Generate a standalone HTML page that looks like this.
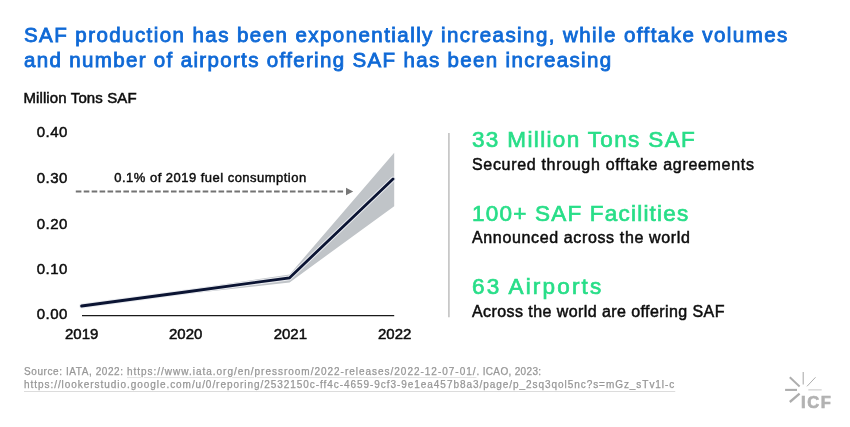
<!DOCTYPE html>
<html><head><meta charset="utf-8">
<style>
html,body{margin:0;padding:0;background:#fff;}
body{width:850px;height:427px;position:relative;overflow:hidden;font-family:"Liberation Sans",sans-serif;color:#111;}
.t{position:absolute;white-space:nowrap;line-height:1;}
.title{color:#0f69d6;font-weight:normal;font-size:20.5px;left:24px;-webkit-text-stroke:0.85px #0f69d6;}
.h{color:#28de88;font-size:22.5px;left:472px;-webkit-text-stroke:0.7px #28de88;}
.s{font-size:16px;left:472px;color:#0d0d0d;-webkit-text-stroke:0.5px #0d0d0d;}
.ax{font-size:15px;color:#0d0d0d;-webkit-text-stroke:0.5px #0d0d0d;}
.yl{letter-spacing:0.45px;right:782.2px;}
.foot{font-size:10px;color:#979797;left:24px;-webkit-text-stroke:0.25px #979797;}
.foot u{text-decoration:underline;text-decoration-color:#dcdcdc;text-decoration-thickness:1px;text-underline-offset:1.8px;}
#u1{text-decoration-color:#e4e4e4;text-underline-offset:2px;}
#u2{text-underline-offset:3.4px;}
</style></head><body>
<div class="t title" id="t1" style="top:24.5px;letter-spacing:1.435px;">SAF production has been exponentially increasing, while offtake volumes</div>
<div class="t title" id="t2" style="top:49.6px;letter-spacing:1.34px;">and number of airports offering SAF has been increasing</div>
<div class="t ax" id="ml" style="left:23.4px;top:90.2px;letter-spacing:0.12px;">Million Tons SAF</div>

<div class="t ax yl" id="y4" style="top:123.6px;">0.40</div>
<div class="t ax yl" id="y3" style="top:170.3px;">0.30</div>
<div class="t ax yl" id="y2" style="top:215.9px;">0.20</div>
<div class="t ax yl" id="y1" style="top:261.1px;">0.10</div>
<div class="t ax yl" id="y0" style="top:305.6px;">0.00</div>

<div class="t ax" id="x0" style="left:65px;top:326px;">2019</div>
<div class="t ax" id="x1" style="left:169px;top:326px;">2020</div>
<div class="t ax" id="x2" style="left:273.7px;top:326px;">2021</div>
<div class="t ax" id="x3" style="left:378px;top:326px;">2022</div>

<div class="t" id="an" style="left:114.3px;top:170.8px;font-size:13px;letter-spacing:0.476px;color:#0d0d0d;-webkit-text-stroke:0.45px #0d0d0d;">0.1% of 2019 fuel consumption</div>

<svg style="position:absolute;left:0;top:0" width="850" height="427" viewBox="0 0 850 427">
  <polygon points="81.6,305.2 185.6,289.9 289.6,274.4 394.2,152.8 394.2,206.2 289.6,282.4 185.6,294.1 81.6,306.8" fill="#c0c4c8"/>
  <polyline points="81.6,306 185.6,292 289.4,277.9 393,179" fill="none" stroke="#eaecf0" stroke-width="4.8" stroke-linejoin="miter" stroke-linecap="round"/>
  <polyline points="81.6,306 185.6,292 289.4,277.9 393,179" fill="none" stroke="#0b1433" stroke-width="2.8" stroke-linejoin="miter" stroke-linecap="round"/>
  <line x1="82" y1="315.6" x2="394.2" y2="315.6" stroke="#1a1a1a" stroke-width="1.1"/>
  <line x1="75.8" y1="191.5" x2="343.3" y2="191.5" stroke="#737373" stroke-width="2" stroke-dasharray="5.6 2.33"/>
  <polygon points="346,187.7 353.2,191.5 346,195.3" fill="#777"/>
  <line x1="448.9" y1="133" x2="448.9" y2="317.2" stroke="#c2c2c2" stroke-width="1.6"/>
  <g stroke="#adadad" stroke-linecap="butt">
    <line x1="785.1" y1="389.9" x2="797" y2="389.9" stroke-width="2.1"/>
    <line x1="789.8" y1="377.3" x2="799.6" y2="386.5" stroke-width="1.9"/>
    <line x1="803.2" y1="372.1" x2="803.2" y2="384.5" stroke-width="1.1"/>
    <line x1="815.5" y1="377.3" x2="807" y2="386.3" stroke-width="1"/>
    <line x1="808.3" y1="389.9" x2="821.7" y2="389.9" stroke-width="0.7"/>
    <line x1="789.8" y1="402" x2="799.6" y2="393.7" stroke-width="2.3"/>
  </g>
</svg>
<div class="t" id="icf" style="left:801px;top:393.7px;font-size:16.5px;font-weight:bold;color:#b2b2b2;-webkit-text-stroke:0.7px #b2b2b2;letter-spacing:1.6px;">ICF</div>

<div class="t h" id="h1" style="top:128.6px;letter-spacing:1.353px;">33 Million Tons SAF</div>
<div class="t s" id="s1" style="top:157.3px;letter-spacing:0.681px;">Secured through offtake agreements</div>
<div class="t h" id="h2" style="top:203.2px;letter-spacing:1.210px;">100+ SAF Facilities</div>
<div class="t s" id="s2" style="top:230.2px;letter-spacing:0.638px;">Announced across the world</div>
<div class="t h" id="h3" style="top:275.7px;letter-spacing:2.166px;">63 Airports</div>
<div class="t s" id="s3" style="top:304.3px;letter-spacing:0.424px;">Across the world are offering SAF</div>

<div class="t foot" id="f1" style="top:366.5px;"><span id="p1" style="letter-spacing:0.582px">Source: IATA, 2022: </span><u id="u1" style="letter-spacing:0.984px">https://www.iata.org/en/pressroom/2022-releases/2022-12-07-01/</u><span id="p2" style="letter-spacing:0.333px">. ICAO, 2023:</span></div>
<div class="t foot" id="f2" style="top:380.2px;letter-spacing:0.951px;"><u id="u2">https://lookerstudio.google.com/u/0/reporing/2532150c-ff4c-4659-9cf3-9e1ea457b8a3/page/p_2sq3qol5nc?s=mGz_sTv1l-c</u></div>
</body></html>
